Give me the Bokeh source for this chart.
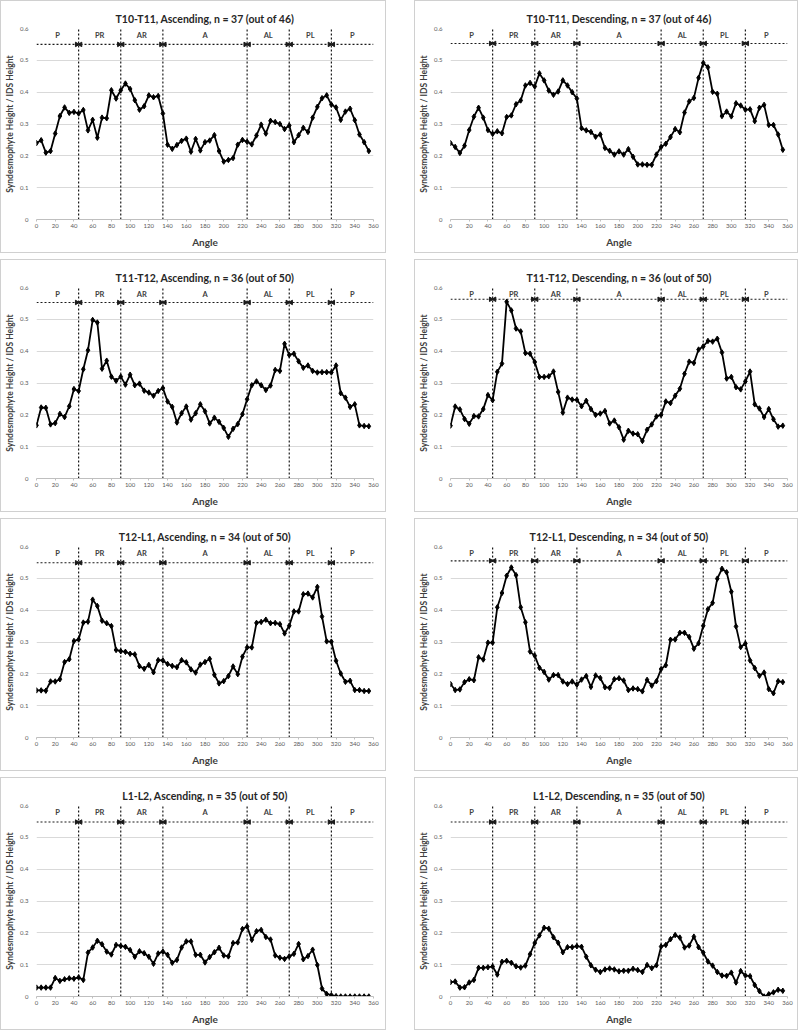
import math
from bokeh.plotting import figure
from bokeh.layouts import column, row
from bokeh.models import Range1d, FixedTicker, CustomJSTickFormatter, InlineStyleSheet
from bokeh.core.properties import value
from bokeh.embed import file_html
from bokeh.resources import INLINE

angles = list(range(0, 360, 5))

titles = [
    "T10-T11, Ascending, n = 37 (out of 46)",
    "T10-T11, Descending, n = 37 (out of 46)",
    "T11-T12, Ascending, n = 36 (out of 50)",
    "T11-T12, Descending, n = 36 (out of 50)",
    "T12-L1, Ascending, n = 34 (out of 50)",
    "T12-L1, Descending, n = 34 (out of 50)",
    "L1-L2, Ascending, n = 35 (out of 50)",
    "L1-L2, Descending, n = 35 (out of 50)",
]

t10_t11_asc = [0.24, 0.249, 0.21, 0.215, 0.27, 0.325, 0.352, 0.335, 0.338, 0.333,
               0.344, 0.28, 0.313, 0.257, 0.32, 0.318, 0.406, 0.38, 0.406, 0.427,
               0.41, 0.375, 0.345, 0.356, 0.39, 0.384, 0.388, 0.333, 0.235, 0.222,
               0.234, 0.247, 0.254, 0.213, 0.253, 0.217, 0.243, 0.248, 0.265, 0.215,
               0.182, 0.187, 0.193, 0.235, 0.25, 0.244, 0.236, 0.264, 0.298, 0.27,
               0.31, 0.306, 0.3, 0.284, 0.295, 0.243, 0.265, 0.288, 0.275, 0.32,
               0.354, 0.381, 0.39, 0.361, 0.352, 0.313, 0.339, 0.348, 0.312, 0.267,
               0.243, 0.215]
t10_t11_desc = [0.24, 0.228, 0.209, 0.232, 0.281, 0.323, 0.351, 0.32, 0.281, 0.269,
                0.277, 0.271, 0.322, 0.327, 0.362, 0.374, 0.421, 0.429, 0.418, 0.459,
                0.437, 0.405, 0.392, 0.402, 0.437, 0.421, 0.4, 0.38, 0.287, 0.28,
                0.275, 0.26, 0.267, 0.225, 0.216, 0.204, 0.214, 0.204, 0.221, 0.197,
                0.173, 0.173, 0.172, 0.172, 0.204, 0.228, 0.238, 0.259, 0.284, 0.274,
                0.336, 0.371, 0.382, 0.445, 0.492, 0.478, 0.401, 0.395, 0.325, 0.339,
                0.324, 0.365, 0.358, 0.345, 0.346, 0.309, 0.351, 0.36, 0.297, 0.297,
                0.267, 0.219]
t11_t12_asc = [0.167, 0.223, 0.222, 0.17, 0.174, 0.203, 0.193, 0.227, 0.281, 0.275,
               0.343, 0.403, 0.498, 0.49, 0.345, 0.37, 0.32, 0.307, 0.32, 0.295,
               0.326, 0.293, 0.298, 0.276, 0.27, 0.26, 0.275, 0.284, 0.242, 0.225,
               0.176, 0.205, 0.226, 0.185, 0.205, 0.233, 0.211, 0.173, 0.191, 0.178,
               0.159, 0.131, 0.156, 0.171, 0.202, 0.249, 0.293, 0.305, 0.293, 0.278,
               0.292, 0.341, 0.338, 0.423, 0.388, 0.392, 0.368, 0.348, 0.355, 0.338,
               0.333, 0.334, 0.334, 0.333, 0.355, 0.268, 0.254, 0.225, 0.233, 0.167,
               0.165, 0.164]
t11_t12_desc = [0.166, 0.226, 0.217, 0.187, 0.172, 0.196, 0.195, 0.218, 0.262, 0.246,
                0.335, 0.361, 0.555, 0.528, 0.471, 0.462, 0.394, 0.392, 0.366, 0.319,
                0.319, 0.321, 0.336, 0.272, 0.207, 0.254, 0.248, 0.247, 0.227, 0.244,
                0.218, 0.2, 0.204, 0.212, 0.173, 0.182, 0.161, 0.122, 0.15, 0.141,
                0.139, 0.118, 0.153, 0.17, 0.195, 0.2, 0.242, 0.237, 0.26, 0.282,
                0.329, 0.367, 0.363, 0.405, 0.415, 0.432, 0.43, 0.439, 0.396, 0.314,
                0.319, 0.287, 0.28, 0.305, 0.336, 0.233, 0.22, 0.193, 0.218, 0.186,
                0.163, 0.166]
t12_l1_asc = [0.148, 0.148, 0.147, 0.176, 0.176, 0.183, 0.237, 0.246, 0.303, 0.308,
              0.361, 0.364, 0.433, 0.413, 0.367, 0.359, 0.35, 0.275, 0.271, 0.269,
              0.263, 0.261, 0.224, 0.216, 0.228, 0.205, 0.243, 0.242, 0.231, 0.225,
              0.221, 0.243, 0.236, 0.214, 0.204, 0.229, 0.237, 0.247, 0.197, 0.17,
              0.177, 0.193, 0.223, 0.199, 0.254, 0.283, 0.283, 0.36, 0.363, 0.37,
              0.359, 0.36, 0.356, 0.327, 0.351, 0.396, 0.396, 0.45, 0.452, 0.44,
              0.473, 0.38, 0.302, 0.301, 0.241, 0.201, 0.175, 0.178, 0.149, 0.149,
              0.146, 0.146]
t12_l1_desc = [0.168, 0.149, 0.151, 0.174, 0.183, 0.18, 0.252, 0.245, 0.298, 0.298,
               0.409, 0.454, 0.508, 0.534, 0.51, 0.409, 0.362, 0.27, 0.257, 0.219,
               0.206, 0.182, 0.196, 0.196, 0.176, 0.168, 0.176, 0.166, 0.182, 0.193,
               0.159, 0.195, 0.187, 0.158, 0.156, 0.183, 0.186, 0.179, 0.149, 0.154,
               0.152, 0.145, 0.181, 0.163, 0.177, 0.215, 0.227, 0.307, 0.308, 0.329,
               0.329, 0.316, 0.279, 0.296, 0.351, 0.403, 0.423, 0.499, 0.53, 0.519,
               0.458, 0.349, 0.284, 0.295, 0.242, 0.218, 0.194, 0.204, 0.152, 0.139,
               0.177, 0.174]
l1_l2_asc = [0.028, 0.028, 0.028, 0.028, 0.058, 0.049, 0.054, 0.057, 0.056, 0.06,
             0.052, 0.138, 0.154, 0.175, 0.164, 0.141, 0.132, 0.162, 0.159, 0.156,
             0.146, 0.125, 0.142, 0.136, 0.125, 0.103, 0.135, 0.141, 0.131, 0.106,
             0.115, 0.154, 0.173, 0.173, 0.131, 0.131, 0.107, 0.124, 0.139, 0.153,
             0.129, 0.126, 0.168, 0.17, 0.212, 0.22, 0.178, 0.205, 0.209, 0.187,
             0.179, 0.129, 0.122, 0.118, 0.126, 0.134, 0.165, 0.117, 0.127, 0.147,
             0.099, 0.025, 0.008, 0.004, 0.001, 0.0, 0.0, 0.0, 0.0, 0.0,
             0.0, 0.0]
l1_l2_desc = [0.045, 0.047, 0.028, 0.029, 0.044, 0.052, 0.09, 0.09, 0.092, 0.094,
              0.069, 0.109, 0.112, 0.106, 0.095, 0.091, 0.097, 0.133, 0.168, 0.192,
              0.216, 0.213, 0.186, 0.169, 0.139, 0.155, 0.155, 0.158, 0.156, 0.125,
              0.098, 0.084, 0.077, 0.085, 0.088, 0.085, 0.079, 0.081, 0.081, 0.087,
              0.083, 0.077, 0.099, 0.089, 0.098, 0.157, 0.162, 0.18, 0.193, 0.185,
              0.154, 0.16, 0.188, 0.155, 0.138, 0.11, 0.097, 0.077, 0.066, 0.065,
              0.075, 0.044, 0.08, 0.066, 0.064, 0.036, 0.017, 0.0, 0.007, 0.013,
              0.021, 0.018]

series = [t10_t11_asc, t10_t11_desc, t11_t12_asc, t11_t12_desc,
          t12_l1_asc, t12_l1_desc, l1_l2_asc, l1_l2_desc]

arrow_levels = [0.55, 0.553, 0.553, 0.563, 0.549, 0.555, 0.548, 0.548]

region_names = ["P", "PR", "AR", "A", "AL", "PL", "P"]
region_centers = [22.5, 67.5, 112.5, 180, 247.5, 292.5, 337.5]
boundaries = [45, 90, 135, 225, 270, 315]
label_level = 0.578

x_ticks = list(range(0, 361, 20))
y_ticks = [0, 0.1, 0.2, 0.3, 0.4, 0.5, 0.6]

FONT = "Lato"

panel_css = InlineStyleSheet(css="""
:host { position: relative; }
:host::after {
  content: ""; position: absolute; left: 0; top: 0; right: 0; bottom: 0;
  border: 1px solid #d0d0d0; pointer-events: none; z-index: 50;
}
""")


def make_panel(i):
    c = i % 2
    w = 386 if c == 0 else 384
    h = 253
    p = figure(width=w, height=h, output_backend="svg", toolbar_location=None,
               x_range=Range1d(0, 360), y_range=Range1d(0, 0.6),
               min_border_left=36, min_border_right=w - 36 - 337,
               min_border_top=28, min_border_bottom=34,
               title=titles[i])
    p.stylesheets = [panel_css]
    p.title.align = "center"
    p.title.text_font = FONT
    p.title.text_font_size = "10.5px"
    p.title.text_font_style = "bold"
    p.title.text_color = "#262626"
    p.title.standoff = 7
    p.title.offset = -13
    p.outline_line_color = None
    p.background_fill_color = "white"
    p.border_fill_color = "white"

    p.xgrid.grid_line_color = None
    p.ygrid.grid_line_color = "#d9d9d9"
    p.ygrid.grid_line_width = 1

    p.xaxis.ticker = FixedTicker(ticks=x_ticks)
    p.yaxis.ticker = FixedTicker(ticks=y_ticks)
    p.yaxis.formatter = CustomJSTickFormatter(
        code="return tick.toFixed(1).replace(/\\.0$/, '');")
    for ax in (p.xaxis[0], p.yaxis[0]):
        ax.major_label_text_font = FONT
        ax.major_label_text_font_size = "6px"
        ax.major_label_text_color = "#595959"
        ax.axis_label_text_font = FONT
        ax.axis_label_text_font_style = "bold"
        ax.axis_label_text_color = "#404040"
        ax.minor_tick_line_color = None
    p.xaxis.axis_label = "Angle"
    p.xaxis.axis_label_text_font_size = "10px"
    p.xaxis.axis_line_color = "#bfbfbf"
    p.xaxis.major_tick_line_color = "#bfbfbf"
    p.xaxis.major_tick_out = 2
    p.xaxis.major_tick_in = 0
    p.xaxis.major_label_standoff = 2
    p.xaxis.axis_label_standoff = 5

    p.yaxis.axis_label = "Syndesmophyte Height / IDS Height"
    p.yaxis.axis_label_text_font_size = "8.5px"
    p.yaxis.axis_line_color = None
    p.yaxis.major_tick_line_color = None
    p.yaxis.major_tick_out = 0
    p.yaxis.major_tick_in = 0
    p.yaxis.major_label_standoff = 8
    p.yaxis.axis_label_standoff = 2

    # region boundaries
    p.segment(x0=boundaries, y0=[0] * len(boundaries), x1=boundaries,
              y1=[0.6] * len(boundaries), line_color="#1a1a1a",
              line_width=1.2, line_dash="2 2")
    lvl = arrow_levels[i]
    p.segment(x0=[0], y0=[lvl], x1=[360], y1=[lvl], line_color="#1a1a1a",
              line_width=1.1, line_dash="2 2")
    p.scatter(x=[b - 2 for b in boundaries], y=[lvl] * len(boundaries),
              marker="triangle", size=4.5, angle=-math.pi / 2,
              fill_color="#1a1a1a", line_color="#1a1a1a")
    p.scatter(x=[b + 2 for b in boundaries], y=[lvl] * len(boundaries),
              marker="triangle", size=4.5, angle=math.pi / 2,
              fill_color="#1a1a1a", line_color="#1a1a1a")
    p.text(x=region_centers, y=[label_level] * len(region_centers),
           text=region_names, text_align="center", text_baseline="middle",
           text_font=value(FONT), text_font_size="7.5px",
           text_font_style="bold", text_color="#404040")

    ys = series[i]
    p.line(angles, ys, line_color="black", line_width=1.8)
    p.scatter(angles, ys, marker="diamond", size=5.5, fill_color="black",
              line_color="black")
    return p


panels = [make_panel(i) for i in range(8)]
rows = [row(panels[2 * r], panels[2 * r + 1], spacing=28) for r in range(4)]
layout = column(*rows, spacing=6)

open("out.html", "w").write(file_html(layout, INLINE))
